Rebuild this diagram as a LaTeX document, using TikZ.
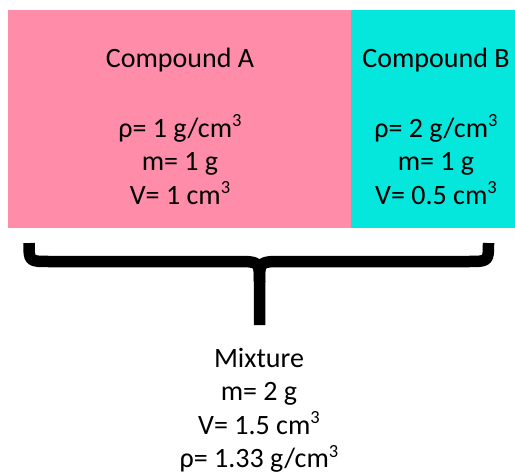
\documentclass[tikz,border=0pt]{standalone}
\usepackage{fontspec}
\setmainfont{Carlito}
\definecolor{pinkA}{RGB}{255,141,170}
\definecolor{cyanB}{RGB}{5,230,220}
\newcommand{\cubesup}{\raisebox{0.36em}{\fontsize{18.5}{20}\selectfont 3}}
\begin{document}
\begin{tikzpicture}[x=1pt,y=-1pt,
  lbl/.style={font=\fontsize{28}{34}\selectfont, anchor=base, inner sep=0pt},
  box/.style={draw=none, inner sep=0pt},
  brace/.style={line width=11.5pt, line cap=butt, line join=round}]
\useasboundingbox (0,0) rectangle (515,474);
\fill[white] (0,0) rectangle (515,474);
% boxes
\fill[pinkA] (8,10) rectangle (351,228);
\fill[cyanB] (351,10) rectangle (515,228);
\node[box] (boxA) at (179.5,119) {};
\node[box] (boxB) at (433,119) {};
% compound A
\node[lbl] (aT) at (180,67) {Compound A};
\node[lbl] (aR) at (180,137) {ρ= 1 g/cm\cubesup};
\node[lbl] (aM) at (180,170.5) {m= 1 g};
\node[lbl] (aV) at (180,204) {V= 1 cm\cubesup};
% compound B
\node[lbl] (bT) at (436,67) {Compound B};
\node[lbl] (bR) at (436,137) {ρ= 2 g/cm\cubesup};
\node[lbl] (bM) at (436,170.5) {m= 1 g};
\node[lbl] (bV) at (436,204) {V= 0.5 cm\cubesup};
% brace
\coordinate (bl) at (29,243);
\coordinate (br) at (488.5,243);
\coordinate (bm) at (259.5,282);
\coordinate (bs) at (259.5,325);
\draw[brace] (bl) .. controls (29,261.5) .. (50,261.5) -- (236,261.5)
  .. controls (259.5,261.5) .. (bm) -- (bs);
\draw[brace] (br) .. controls (488.5,261.5) .. (467.5,261.5) -- (283,261.5)
  .. controls (259.5,261.5) .. (bm);
% mixture
\node[lbl] (mT) at (259,367) {Mixture};
\node[lbl] (mM) at (259,400.5) {m= 2 g};
\node[lbl] (mV) at (259,434) {V= 1.5 cm\cubesup};
\node[lbl] (mR) at (259,467.5) {ρ= 1.33 g/cm\cubesup};
\end{tikzpicture}
\end{document}
